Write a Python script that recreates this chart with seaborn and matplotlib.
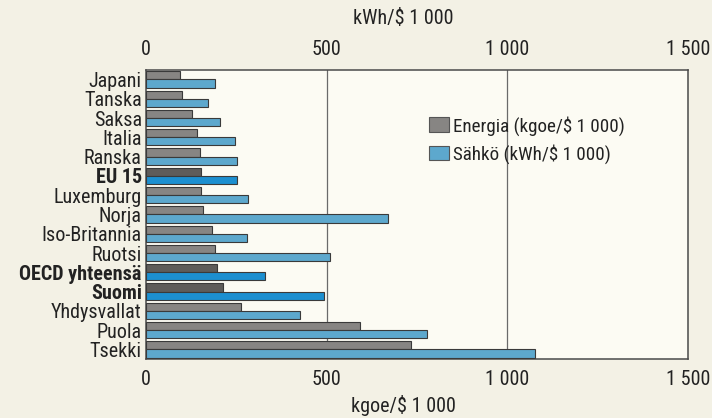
import pandas as pd
import numpy as np
import matplotlib
matplotlib.use("Agg")
import matplotlib.pyplot as plt
from matplotlib import font_manager as fm
import seaborn as sns

# Data
maat = ["Japani", "Tanska", "Saksa", "Italia", "Ranska", "EU 15", "Luxemburg",
        "Norja", "Iso-Britannia", "Ruotsi", "OECD yhteensä", "Suomi",
        "Yhdysvallat", "Puola", "Tsekki"]
energia = [94, 99, 127, 142, 149, 151, 151, 159, 183, 191, 198, 214, 264, 593, 734]
sahko = [191, 171, 204, 246, 253, 253, 282, 669, 279, 510, 330, 494, 426, 778, 1077]
korostetut = ["EU 15", "OECD yhteensä", "Suomi"]
sarjat = ["Energia (kgoe/$ 1 000)", "Sähkö (kWh/$ 1 000)"]
tikit = [0, 500, 1000, 1500]
tikki_tekstit = ["0", "500", "1 000", "1 500"]

df = pd.DataFrame({
    "maa": maat * 2,
    "arvo": energia + sahko,
    "sarja": [sarjat[0]] * len(maat) + [sarjat[1]] * len(maat),
})

sns.set_theme(style="white")

# pick a narrow sans font if one is installed
nimet = {f.name for f in fm.fontManager.ttflist}
fontti = None
for ehdokas in ["Liberation Sans Narrow", "Roboto Condensed", "Open Sans Condensed",
                "Noto Sans Condensed"]:
    if ehdokas in nimet:
        fontti = ehdokas
        break
if fontti:
    plt.rcParams["font.family"] = [fontti, "DejaVu Sans"]
    koko = 14.5
else:
    plt.rcParams["font.family"] = ["DejaVu Sans"]
    koko = 11.5

harmaa, sininen = "#878583", "#4aaee0"
tumma_harmaa, tumma_sininen = "#5e5c5a", "#1c8fd0"
teksti = "#222222"

fig = plt.figure(figsize=(7.12, 4.18), dpi=100, facecolor="#f3f1e5")
ax = fig.add_axes([0.205, 0.141, 0.761, 0.692])
ax.set_facecolor("#fcfbf3")

sns.barplot(data=df, y="maa", x="arvo", hue="sarja", orient="h",
            palette=[harmaa, sininen], width=0.84, edgecolor="#3a3a3a",
            linewidth=0.8, ax=ax, legend=True, zorder=3)

# darker colour for the highlighted rows
for cont, tumma in zip(ax.containers, [tumma_harmaa, tumma_sininen]):
    for patch, maa in zip(cont.patches, maat):
        if maa in korostetut:
            patch.set_facecolor(tumma)

ax.set_xlim(0, 1500)
ax.set_xticks(tikit)
ax.set_xticklabels(tikki_tekstit, fontsize=koko, color=teksti)
ax.tick_params(axis="x", length=0, pad=8, top=True, labeltop=True)
ax.tick_params(axis="y", length=0, pad=3)
ax.set_yticks(range(len(maat)))
ax.set_yticklabels(maat, fontsize=koko, color=teksti)
for lbl in ax.get_yticklabels():
    if lbl.get_text() in korostetut:
        lbl.set_fontweight("bold")
ax.set_ylabel("")
ax.set_xlabel("")
fig.text(0.567, 1 - 405 / 418, "kgoe/$ 1 000", ha="center", va="center",
         fontsize=koko, color=teksti)
fig.text(0.567, 1 - 18 / 418, "kWh/$ 1 000", ha="center", va="center",
         fontsize=koko, color=teksti)

for x in [500, 1000]:
    ax.axvline(x, color="#6a6a6a", linewidth=0.9, zorder=1)

for s in ax.spines.values():
    s.set_color("#4a4a4a")
    s.set_linewidth(1.1)

leg = ax.legend(loc="upper left", bbox_to_anchor=(0.49, 0.9), frameon=False,
                fontsize=koko - 0.8, handlelength=1.05, handleheight=0.8,
                handletextpad=0.25, labelspacing=0.45)
for h in leg.legend_handles:
    h.set_edgecolor("#555555")
for t in leg.get_texts():
    t.set_color(teksti)

fig.savefig("out.png", dpi=100, facecolor=fig.get_facecolor())
